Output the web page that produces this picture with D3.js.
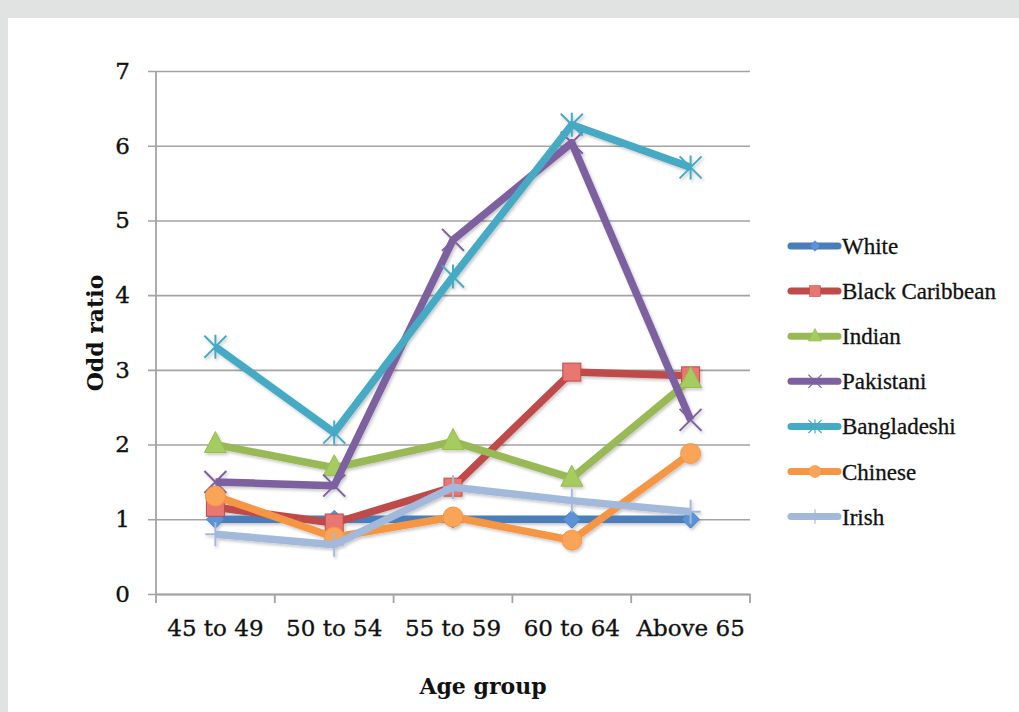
<!DOCTYPE html>
<html>
<head>
<meta charset="utf-8">
<script src="https://cdn.jsdelivr.net/npm/d3@7"></script>
<style>
  html, body { margin: 0; padding: 0; background: #e1e2e2; }
  svg { display: block; }
</style>
</head>
<body>
<svg id="chart" width="1019" height="712"></svg>
<script>
// Age groups along the x axis
const ageGroups = ["45 to 49", "50 to 54", "55 to 59", "60 to 64", "Above 65"];

// Odd ratio by ethnic group
const white          = [1.00, 1.00, 1.00, 1.00, 1.00];
const blackCaribbean = [1.16, 0.95, 1.43, 2.97, 2.92];
const indian         = [2.00, 1.69, 2.04, 1.55, 2.87];
const pakistani      = [1.50, 1.45, 4.74, 6.04, 2.33];
const bangladeshi    = [3.31, 2.16, 4.25, 6.28, 5.71];
const chinese        = [1.31, 0.76, 1.03, 0.72, 1.88];
const irish          = [0.80, 0.66, 1.43, 1.25, 1.10];

const yTicks = [0, 1, 2, 3, 4, 5, 6, 7];

const seriesNames = ["White", "Black Caribbean", "Indian", "Pakistani", "Bangladeshi", "Chinese", "Irish"];
const seriesValues = [white, blackCaribbean, indian, pakistani, bangladeshi, chinese, irish];
const seriesColors = ["#4a7ebb", "#be4b48", "#98b954", "#7d60a0", "#46aac5", "#f59645", "#a3b9dc"];
const markerFills  = ["#5b93d8", "#e87772", "#a5cc5e", "#7d60a0", "#46aac5", "#f9a457", "#a3b9dc"];
const markerTypes  = ["diamond", "square", "triangle", "x", "star", "circle", "plus"];

const series = seriesNames.map((name, i) => ({
  name, values: seriesValues[i], color: seriesColors[i], fill: markerFills[i], marker: markerTypes[i]
}));

const svg = d3.select("#chart");
const font = "'DejaVu Serif', serif";
const legendFont = "'Liberation Serif', serif";

// White panel
svg.append("rect").attr("x", 8).attr("y", 18).attr("width", 1011).attr("height", 694).attr("fill", "#ffffff");

// Drop shadow for lines and markers
const defs = svg.append("defs");
const f = defs.append("filter").attr("id", "shadow").attr("x", "-10%").attr("y", "-10%").attr("width", "130%").attr("height", "130%");
f.append("feDropShadow").attr("dx", 1.5).attr("dy", 2).attr("stdDeviation", 1.5)
  .attr("flood-color", "#000").attr("flood-opacity", 0.22);

const plot = { left: 156, right: 750, top: 71, bottom: 594 };

const x = d3.scaleBand().domain(ageGroups).range([plot.left, plot.right]).paddingInner(0).paddingOuter(0);
const y = d3.scaleLinear().domain([0, 7]).range([plot.bottom, plot.top]);
const cx = d => x(d) + x.bandwidth() / 2;

// Horizontal gridlines with tick marks on the left
const yAxis = d3.axisLeft(y).tickValues(yTicks).tickSize(plot.right - plot.left + 8).tickPadding(18).tickFormat(d3.format("d"));
const gy = svg.append("g").attr("transform", `translate(${plot.right},0)`).call(yAxis);
gy.select(".domain").remove();
gy.selectAll(".tick line").attr("stroke", "#a3a3a3").attr("stroke-width", 1.6);
gy.selectAll(".tick text").attr("font-family", font).attr("font-size", 23).attr("fill", "#111")
  .attr("stroke", "#111").attr("stroke-width", 0.35);

// Vertical axis line
svg.append("line").attr("x1", plot.left).attr("x2", plot.left).attr("y1", plot.top).attr("y2", plot.bottom)
  .attr("stroke", "#a3a3a3").attr("stroke-width", 1.8);

// X axis with category boundary ticks
const gx = svg.append("g").attr("transform", `translate(0,${plot.bottom})`)
  .call(d3.axisBottom(x).tickSize(0).tickPadding(26));
gx.select(".domain").attr("stroke", "#a3a3a3").attr("stroke-width", 1.8);
gx.selectAll(".tick text").attr("font-family", font).attr("font-size", 23).attr("fill", "#111")
  .attr("stroke", "#111").attr("stroke-width", 0.35);
const bounds = ageGroups.map(d => x(d)).concat([x(ageGroups[ageGroups.length - 1]) + x.bandwidth()]);
gx.selectAll(".bound").data(bounds).enter().append("line")
  .attr("x1", d => d).attr("x2", d => d).attr("y1", 0).attr("y2", 9)
  .attr("stroke", "#a3a3a3").attr("stroke-width", 1.8);

// Axis titles
svg.append("text").attr("x", 483).attr("y", 694).attr("text-anchor", "middle")
  .attr("font-family", font).attr("font-weight", "bold").attr("font-size", 22).attr("fill", "#111").text("Age group");
svg.append("text").attr("transform", "translate(103,333) rotate(-90)").attr("text-anchor", "middle")
  .attr("font-family", font).attr("font-weight", "bold").attr("font-size", 22).attr("fill", "#111").text("Odd ratio");

// Marker drawing
function drawMarker(g, type, color, fill) {
  switch (type) {
    case "diamond":
      g.append("path").attr("d", d3.symbol().type(d3.symbolDiamond2).size(200)())
        .attr("fill", fill).attr("stroke", color).attr("stroke-width", 1); break;
    case "square":
      g.append("rect").attr("x", -9).attr("y", -9).attr("width", 18).attr("height", 18)
        .attr("fill", fill).attr("stroke", color).attr("stroke-width", 1); break;
    case "triangle":
      g.append("path").attr("d", "M0,-13L11,8L-11,8Z")
        .attr("fill", fill).attr("stroke", color).attr("stroke-width", 1); break;
    case "circle":
      g.append("circle").attr("r", 10).attr("fill", fill).attr("stroke", color).attr("stroke-width", 1); break;
    case "x":
      g.append("path").attr("d", "M-11,-11L11,11M-11,11L11,-11")
        .attr("stroke", color).attr("stroke-width", 2).attr("fill", "none"); break;
    case "star":
      g.append("path").attr("d", "M-11,-11L11,11M-11,11L11,-11M0,-12L0,12")
        .attr("stroke", color).attr("stroke-width", 2).attr("fill", "none"); break;
    case "plus":
      g.append("path").attr("d", "M0,-12L0,12M-10,0L10,0")
        .attr("stroke", color).attr("stroke-width", 2).attr("fill", "none"); break;
  }
}

const line = d3.line().x((d, i) => cx(ageGroups[i])).y(d => y(d));

const layer = svg.append("g").attr("filter", "url(#shadow)");
series.forEach(s => {
  const g = layer.append("g");
  g.append("path").datum(s.values).attr("d", line).attr("fill", "none")
    .attr("stroke", s.color).attr("stroke-width", 7.5).attr("stroke-linejoin", "round").attr("stroke-linecap", "butt");
  s.values.forEach((v, i) => {
    const m = g.append("g").attr("transform", `translate(${cx(ageGroups[i])},${y(v)})`);
    drawMarker(m, s.marker, s.color, s.fill);
  });
});

// Legend
const legend = svg.append("g");
series.forEach((s, i) => {
  const ly = 246 + i * 45.1;
  const g = legend.append("g").attr("transform", `translate(0,${ly})`);
  g.append("line").attr("x1", 791).attr("x2", 838).attr("y1", 0).attr("y2", 0)
    .attr("stroke", s.color).attr("stroke-width", 7).attr("stroke-linecap", "round");
  const m = g.append("g").attr("transform", "translate(815,0) scale(0.6)");
  drawMarker(m, s.marker, s.color, s.fill);
  g.append("text").attr("x", 842).attr("y", 8).attr("font-family", legendFont).attr("font-size", 23)
    .attr("fill", "#111").attr("stroke", "#111").attr("stroke-width", 0.3).text(s.name);
});
</script>
</body>
</html>
